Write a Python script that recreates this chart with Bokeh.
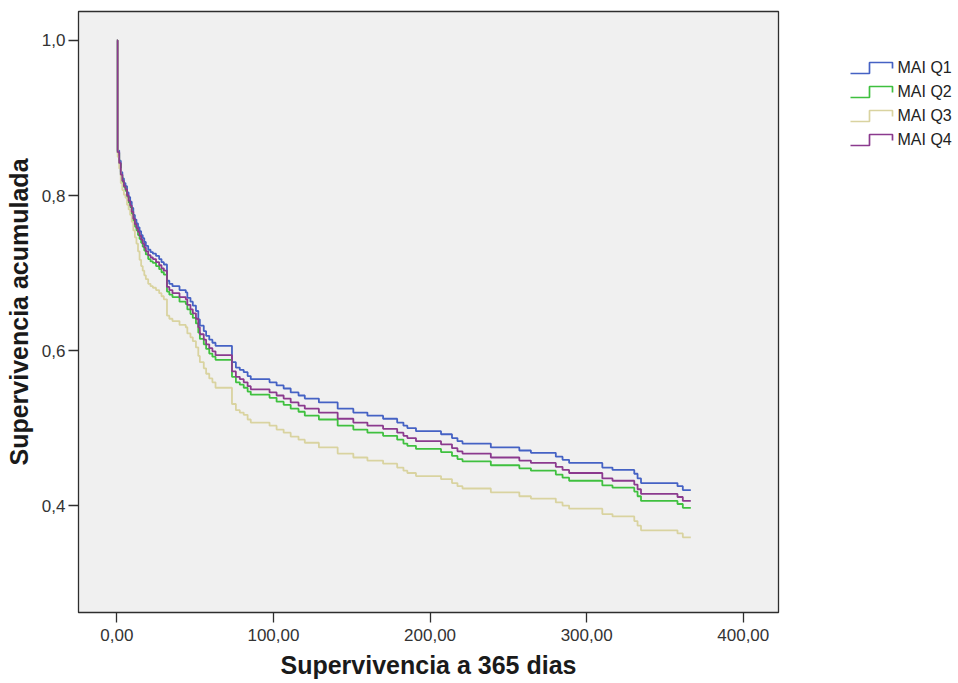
from bokeh.plotting import figure
from bokeh.models import Range1d, FixedTicker
from bokeh.layouts import row
from bokeh.embed import file_html
from bokeh.resources import INLINE
from bokeh.core.properties import value

# ---------------- data ----------------
step_times = [0, 0.5, 1.5, 2.5, 3.5, 4.5, 5.5, 6.5, 7.5, 8.5, 9.5, 10.5, 11.5, 12.5,
              13.5, 14.5, 15.5, 16.5, 17.5, 18.5, 20, 21.5, 23, 25, 27, 28.5, 30,
              32, 33.5, 35.5, 40, 44, 45, 47, 48.5, 50.5, 52, 53, 55.5, 57, 59, 61,
              63, 73.5, 76, 78.5, 81, 83.5, 85.5, 97.5, 102, 106.5, 111, 116, 120,
              129, 141, 151, 160, 170, 179, 183, 185.5, 191, 207, 214, 217.5, 220.7,
              238.8, 257, 264.4, 280.3, 284.6, 288.8, 310, 316.5, 330.4, 332.5,
              334.7, 358, 361.4]
end_time = 366.5

q1 = [1.0, 0.858, 0.845, 0.830, 0.822, 0.816, 0.812, 0.804, 0.798, 0.792, 0.784, 0.775,
      0.769, 0.764, 0.759, 0.754, 0.749, 0.745, 0.740, 0.735, 0.730, 0.727, 0.725,
      0.722, 0.718, 0.714, 0.711, 0.690, 0.686, 0.683, 0.678, 0.675, 0.668, 0.663,
      0.658, 0.651, 0.640, 0.632, 0.625, 0.619, 0.614, 0.610, 0.606, 0.585, 0.578,
      0.575, 0.572, 0.567, 0.563, 0.559, 0.555, 0.551, 0.546, 0.542, 0.538, 0.533,
      0.525, 0.520, 0.516, 0.512, 0.507, 0.503, 0.500, 0.496, 0.492, 0.487, 0.483,
      0.480, 0.475, 0.471, 0.468, 0.463, 0.459, 0.455, 0.449, 0.446, 0.441, 0.435,
      0.429, 0.425, 0.420]
q2 = [1.0, 0.855, 0.841, 0.826, 0.817, 0.811, 0.806, 0.798, 0.791, 0.785, 0.776, 0.767,
      0.760, 0.755, 0.749, 0.744, 0.739, 0.734, 0.729, 0.724, 0.718, 0.715, 0.713,
      0.709, 0.705, 0.701, 0.698, 0.676, 0.672, 0.669, 0.663, 0.660, 0.653, 0.647,
      0.642, 0.635, 0.623, 0.615, 0.608, 0.602, 0.596, 0.592, 0.588, 0.566, 0.559,
      0.556, 0.552, 0.547, 0.543, 0.539, 0.534, 0.530, 0.525, 0.521, 0.516, 0.511,
      0.503, 0.498, 0.494, 0.490, 0.485, 0.480, 0.477, 0.473, 0.469, 0.464, 0.460,
      0.457, 0.452, 0.448, 0.445, 0.440, 0.436, 0.432, 0.426, 0.423, 0.418, 0.412,
      0.406, 0.402, 0.397]
q3 = [1.0, 0.850, 0.835, 0.816, 0.807, 0.801, 0.797, 0.788, 0.782, 0.775, 0.766, 0.755,
      0.746, 0.738, 0.728, 0.717, 0.709, 0.703, 0.697, 0.692, 0.686, 0.683, 0.681,
      0.678, 0.674, 0.670, 0.666, 0.645, 0.641, 0.638, 0.633, 0.630, 0.622, 0.617,
      0.612, 0.604, 0.593, 0.585, 0.577, 0.570, 0.564, 0.559, 0.552, 0.531, 0.523,
      0.520, 0.517, 0.511, 0.507, 0.503, 0.498, 0.494, 0.489, 0.485, 0.481, 0.475,
      0.467, 0.462, 0.458, 0.454, 0.449, 0.445, 0.442, 0.438, 0.434, 0.429, 0.425,
      0.422, 0.417, 0.412, 0.409, 0.404, 0.400, 0.396, 0.389, 0.386, 0.380, 0.374,
      0.368, 0.364, 0.359]
q4 = [1.0, 0.856, 0.842, 0.827, 0.819, 0.812, 0.808, 0.800, 0.793, 0.787, 0.779, 0.770,
      0.763, 0.758, 0.753, 0.748, 0.743, 0.738, 0.733, 0.728, 0.723, 0.720, 0.718,
      0.714, 0.710, 0.706, 0.703, 0.682, 0.678, 0.674, 0.669, 0.666, 0.659, 0.653,
      0.648, 0.641, 0.630, 0.621, 0.614, 0.608, 0.603, 0.599, 0.594, 0.573, 0.566,
      0.563, 0.559, 0.554, 0.550, 0.546, 0.542, 0.538, 0.533, 0.529, 0.525, 0.520,
      0.512, 0.507, 0.503, 0.499, 0.494, 0.490, 0.487, 0.483, 0.479, 0.474, 0.470,
      0.467, 0.462, 0.458, 0.455, 0.450, 0.446, 0.442, 0.435, 0.432, 0.427, 0.421,
      0.415, 0.411, 0.406]

series_names = ["MAI Q1", "MAI Q2", "MAI Q3", "MAI Q4"]
series_values = [q1, q2, q3, q4]
series_colors = ["#4562C4", "#3FC03F", "#D9D3A0", "#8B3A8E"]

x_ticks = [0, 100, 200, 300, 400]
x_tick_labels = ["0,00", "100,00", "200,00", "300,00", "400,00"]
y_ticks = [0.4, 0.6, 0.8, 1.0]
y_tick_labels = ["0,4", "0,6", "0,8", "1,0"]

x_title = "Supervivencia a 365 dias"
y_title = "Supervivencia acumulada"

FONT = "Liberation Sans"

# ---------------- main chart ----------------
p = figure(width=800, height=683, output_backend="svg", toolbar_location=None,
           x_range=Range1d(-24.5, 422.5), y_range=Range1d(0.262, 1.0374),
           min_border_left=78, min_border_right=22, min_border_top=11,
           min_border_bottom=71)
p.background_fill_color = "#F0F0F0"
p.border_fill_color = "white"
p.outline_line_color = "#2E2E2E"
p.outline_line_width = 1.3
p.xgrid.visible = False
p.ygrid.visible = False

for vals, col in zip(series_values, series_colors):
    xs = list(step_times) + [end_time]
    ys = list(vals) + [vals[-1]]
    p.step(xs, ys, mode="after", line_color=col, line_width=1.8)

p.xaxis.ticker = FixedTicker(ticks=x_ticks)
p.yaxis.ticker = FixedTicker(ticks=y_ticks)
p.xaxis.major_label_overrides = {t: l for t, l in zip(x_ticks, x_tick_labels)}
p.yaxis.major_label_overrides = {t: l for t, l in zip(y_ticks, y_tick_labels)}

for ax in (p.xaxis, p.yaxis):
    ax.axis_line_color = "#2E2E2E"
    ax.major_tick_line_color = "#2E2E2E"
    ax.major_tick_line_width = 1.3
    ax.major_tick_out = 10
    ax.major_tick_in = 0
    ax.minor_tick_line_color = None
    ax.major_label_text_font = FONT
    ax.major_label_text_font_size = "17px"
    ax.major_label_text_color = "#333333"
    ax.axis_label_text_font = FONT
    ax.axis_label_text_font_size = "25px"
    ax.axis_label_text_font_style = "bold"
    ax.axis_label_text_color = "#1A1A1A"

p.xaxis.axis_label = x_title
p.yaxis.axis_label = y_title
p.xaxis.major_label_standoff = 6
p.yaxis.major_label_standoff = 3
p.xaxis.axis_label_standoff = 7
p.yaxis.axis_label_standoff = 6

# ---------------- legend panel ----------------
lg = figure(frame_width=158, frame_height=683, output_backend="svg",
            toolbar_location=None,
            x_range=Range1d(0, 158), y_range=Range1d(683, 0),
            min_border=0, x_axis_type=None, y_axis_type=None)
lg.outline_line_color = None
lg.background_fill_color = "white"
lg.border_fill_color = "white"
lg.xgrid.visible = False
lg.ygrid.visible = False

row_y0 = 56
row_gap = 24
for i, (name, col) in enumerate(zip(series_names, series_colors)):
    yc = row_y0 + i * row_gap
    lg.line([50, 69, 69, 92, 92], [yc + 6, yc + 6, yc - 5, yc - 5, yc + 1],
            line_color=col, line_width=1.7)
    lg.text(x=[97], y=[yc], text=[name], text_font=value(FONT),
            text_font_size="16px", text_color="#222222",
            text_baseline="middle", text_align="left")

layout = row(p, lg, spacing=0)

open("out.html", "w").write(file_html(layout, INLINE))
